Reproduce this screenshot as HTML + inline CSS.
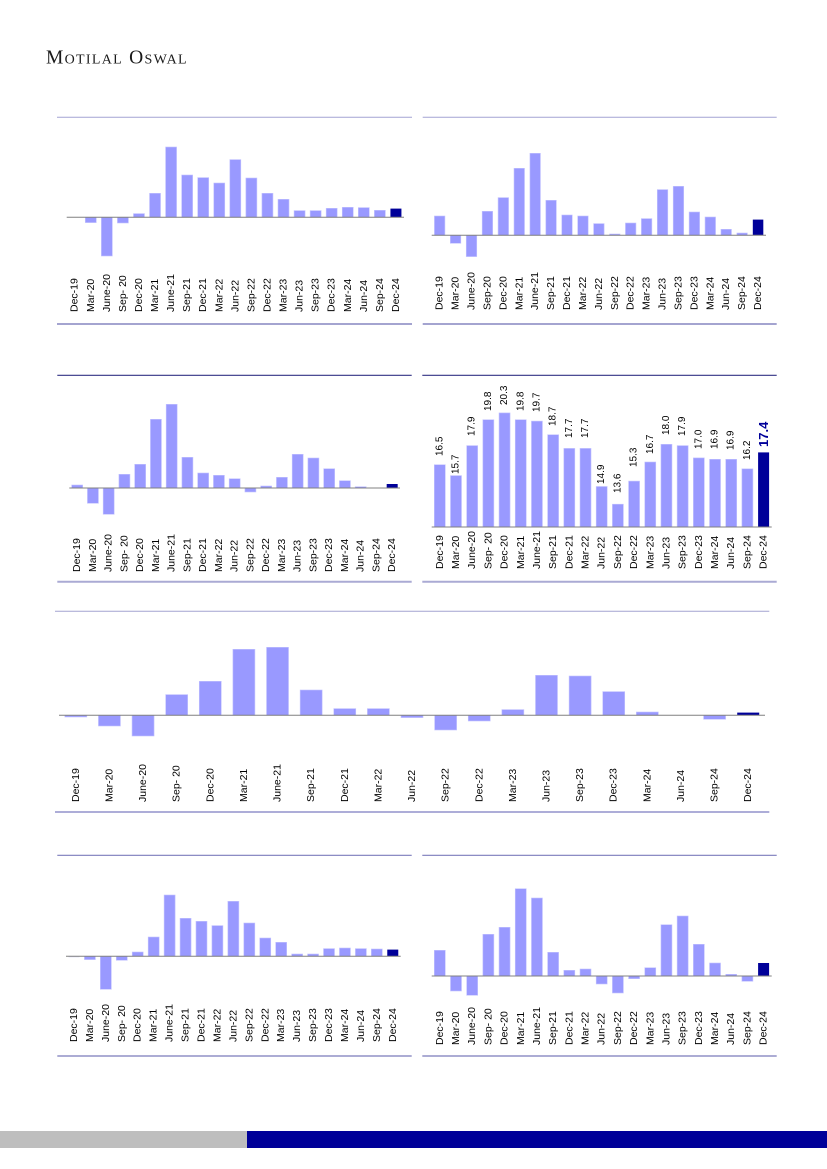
<!DOCTYPE html>
<html><head><meta charset="utf-8">
<style>
html,body{margin:0;padding:0;background:#fff;}
svg{display:block;}
.b{fill:#9999ff;stroke:#c4c4ff;stroke-width:0.6;}
.d{fill:#000099;}
.l{font-family:"Liberation Sans",sans-serif;font-size:10.5px;fill:#000;dominant-baseline:central;}
.v{font-family:"Liberation Sans",sans-serif;font-size:10px;fill:#000;dominant-baseline:central;}
.ax{stroke:#808080;stroke-width:1;}
</style></head>
<body>
<svg width="827" height="1169" viewBox="0 0 827 1169" xmlns="http://www.w3.org/2000/svg">
<rect width="827" height="1169" fill="#fff"/>

<!-- Header -->
<text x="46" y="63.5" font-family="'Liberation Serif',serif" fill="#1a1a1a" letter-spacing="1.3"><tspan font-size="19.5">M</tspan><tspan font-size="14">OTILAL</tspan><tspan font-size="19.5"> O</tspan><tspan font-size="14">SWAL</tspan></text>

<!-- ===== Chart 1 ===== -->
<line x1="57" y1="117.3" x2="412" y2="117.3" stroke="#a4a4d4" stroke-width="1"/>
<line x1="57" y1="324" x2="412" y2="324" stroke="#6e6eb4" stroke-width="1.3"/>
<g transform="translate(66.7,217.3)">
<rect class="b" x="18.59" y="0" width="11" height="5.3"/>
<rect class="b" x="34.65" y="0" width="11" height="38.7"/>
<rect class="b" x="50.71" y="0" width="11" height="5.7"/>
<rect class="b" x="66.77" y="-3.7" width="11" height="3.7"/>
<rect class="b" x="82.83" y="-24" width="11" height="24"/>
<rect class="b" x="98.89" y="-70.3" width="11" height="70.3"/>
<rect class="b" x="114.95" y="-42.3" width="11" height="42.3"/>
<rect class="b" x="131.01" y="-39.7" width="11" height="39.7"/>
<rect class="b" x="147.07" y="-34.3" width="11" height="34.3"/>
<rect class="b" x="163.13" y="-57.7" width="11" height="57.7"/>
<rect class="b" x="179.19" y="-39.3" width="11" height="39.3"/>
<rect class="b" x="195.25" y="-24" width="11" height="24"/>
<rect class="b" x="211.31" y="-18" width="11" height="18"/>
<rect class="b" x="227.37" y="-6.7" width="11" height="6.7"/>
<rect class="b" x="243.43" y="-6.7" width="11" height="6.7"/>
<rect class="b" x="259.49" y="-9" width="11" height="9"/>
<rect class="b" x="275.55" y="-10" width="11" height="10"/>
<rect class="b" x="291.61" y="-9.7" width="11" height="9.7"/>
<rect class="b" x="307.67" y="-7" width="11" height="7"/>
<rect class="d" x="323.73" y="-8.7" width="11" height="8.7"/>
<line class="ax" x1="0" y1="0" x2="337.3" y2="0"/>
</g>
<g transform="translate(66.7,312)">
<text class="l" transform="translate(8.03,0) rotate(-90)">Dec-19</text>
<text class="l" transform="translate(24.09,0) rotate(-90)">Mar-20</text>
<text class="l" transform="translate(40.15,0) rotate(-90)">June-20</text>
<text class="l" transform="translate(56.21,0) rotate(-90)">Sep- 20</text>
<text class="l" transform="translate(72.27,0) rotate(-90)">Dec-20</text>
<text class="l" transform="translate(88.33,0) rotate(-90)">Mar-21</text>
<text class="l" transform="translate(104.39,0) rotate(-90)">June-21</text>
<text class="l" transform="translate(120.45,0) rotate(-90)">Sep-21</text>
<text class="l" transform="translate(136.51,0) rotate(-90)">Dec-21</text>
<text class="l" transform="translate(152.57,0) rotate(-90)">Mar-22</text>
<text class="l" transform="translate(168.63,0) rotate(-90)">Jun-22</text>
<text class="l" transform="translate(184.69,0) rotate(-90)">Sep-22</text>
<text class="l" transform="translate(200.75,0) rotate(-90)">Dec-22</text>
<text class="l" transform="translate(216.81,0) rotate(-90)">Mar-23</text>
<text class="l" transform="translate(232.87,0) rotate(-90)">Jun-23</text>
<text class="l" transform="translate(248.93,0) rotate(-90)">Sep-23</text>
<text class="l" transform="translate(264.99,0) rotate(-90)">Dec-23</text>
<text class="l" transform="translate(281.05,0) rotate(-90)">Mar-24</text>
<text class="l" transform="translate(297.11,0) rotate(-90)">Jun-24</text>
<text class="l" transform="translate(313.17,0) rotate(-90)">Sep-24</text>
<text class="l" transform="translate(329.23,0) rotate(-90)">Dec-24</text>
</g>

<!-- ===== Chart 2 ===== -->
<line x1="422.7" y1="117.3" x2="776.7" y2="117.3" stroke="#a4a4d4" stroke-width="1"/>
<line x1="422.7" y1="324" x2="776.7" y2="324" stroke="#6e6eb4" stroke-width="1.3"/>
<g transform="translate(431.7,235.3)">
<rect class="b" x="2.71" y="-19.3" width="10.5" height="19.3"/>
<rect class="b" x="18.63" y="0" width="10.5" height="8"/>
<rect class="b" x="34.55" y="0" width="10.5" height="21.3"/>
<rect class="b" x="50.47" y="-24" width="10.5" height="24"/>
<rect class="b" x="66.39" y="-37.7" width="10.5" height="37.7"/>
<rect class="b" x="82.31" y="-67" width="10.5" height="67"/>
<rect class="b" x="98.23" y="-82" width="10.5" height="82"/>
<rect class="b" x="114.15" y="-35" width="10.5" height="35"/>
<rect class="b" x="130.07" y="-20.3" width="10.5" height="20.3"/>
<rect class="b" x="145.99" y="-19.3" width="10.5" height="19.3"/>
<rect class="b" x="161.91" y="-11.7" width="10.5" height="11.7"/>
<rect class="b" x="177.83" y="-1.3" width="10.5" height="1.3"/>
<rect class="b" x="193.75" y="-12.3" width="10.5" height="12.3"/>
<rect class="b" x="209.67" y="-16.7" width="10.5" height="16.7"/>
<rect class="b" x="225.59" y="-45.7" width="10.5" height="45.7"/>
<rect class="b" x="241.51" y="-49" width="10.5" height="49"/>
<rect class="b" x="257.43" y="-23.3" width="10.5" height="23.3"/>
<rect class="b" x="273.35" y="-18.3" width="10.5" height="18.3"/>
<rect class="b" x="289.27" y="-6" width="10.5" height="6"/>
<rect class="b" x="305.19" y="-2.3" width="10.5" height="2.3"/>
<rect class="d" x="321.11" y="-15.7" width="10.5" height="15.7"/>
<line class="ax" x1="0" y1="0" x2="334.3" y2="0"/>
</g>
<g transform="translate(431.7,310)">
<text class="l" transform="translate(7.96,0) rotate(-90)">Dec-19</text>
<text class="l" transform="translate(23.88,0) rotate(-90)">Mar-20</text>
<text class="l" transform="translate(39.8,0) rotate(-90)">June-20</text>
<text class="l" transform="translate(55.72,0) rotate(-90)">Sep-20</text>
<text class="l" transform="translate(71.64,0) rotate(-90)">Dec-20</text>
<text class="l" transform="translate(87.56,0) rotate(-90)">Mar-21</text>
<text class="l" transform="translate(103.48,0) rotate(-90)">June-21</text>
<text class="l" transform="translate(119.4,0) rotate(-90)">Sep-21</text>
<text class="l" transform="translate(135.32,0) rotate(-90)">Dec-21</text>
<text class="l" transform="translate(151.24,0) rotate(-90)">Mar-22</text>
<text class="l" transform="translate(167.16,0) rotate(-90)">Jun-22</text>
<text class="l" transform="translate(183.08,0) rotate(-90)">Sep-22</text>
<text class="l" transform="translate(199,0) rotate(-90)">Dec-22</text>
<text class="l" transform="translate(214.92,0) rotate(-90)">Mar-23</text>
<text class="l" transform="translate(230.84,0) rotate(-90)">Jun-23</text>
<text class="l" transform="translate(246.76,0) rotate(-90)">Sep-23</text>
<text class="l" transform="translate(262.68,0) rotate(-90)">Dec-23</text>
<text class="l" transform="translate(278.6,0) rotate(-90)">Mar-24</text>
<text class="l" transform="translate(294.52,0) rotate(-90)">Jun-24</text>
<text class="l" transform="translate(310.44,0) rotate(-90)">Sep-24</text>
<text class="l" transform="translate(326.36,0) rotate(-90)">Dec-24</text>
</g>

<!-- ===== Chart 3 ===== -->
<line x1="57.3" y1="375.3" x2="411.7" y2="375.3" stroke="#333385" stroke-width="1.2"/>
<line x1="57.3" y1="581.7" x2="411.7" y2="581.7" stroke="#aaaad4" stroke-width="2"/>
<g transform="translate(69.3,488)">
<rect class="b" x="2.38" y="-3" width="11" height="3"/>
<rect class="b" x="18.13" y="0" width="11" height="15.3"/>
<rect class="b" x="33.88" y="0" width="11" height="26.3"/>
<rect class="b" x="49.63" y="-13.7" width="11" height="13.7"/>
<rect class="b" x="65.38" y="-23.7" width="11" height="23.7"/>
<rect class="b" x="81.13" y="-68.7" width="11" height="68.7"/>
<rect class="b" x="96.88" y="-83.7" width="11" height="83.7"/>
<rect class="b" x="112.63" y="-30.7" width="11" height="30.7"/>
<rect class="b" x="128.38" y="-15" width="11" height="15"/>
<rect class="b" x="144.13" y="-12.7" width="11" height="12.7"/>
<rect class="b" x="159.88" y="-9.3" width="11" height="9.3"/>
<rect class="b" x="175.63" y="0" width="11" height="4"/>
<rect class="b" x="191.38" y="-2" width="11" height="2"/>
<rect class="b" x="207.13" y="-10.7" width="11" height="10.7"/>
<rect class="b" x="222.88" y="-33.7" width="11" height="33.7"/>
<rect class="b" x="238.63" y="-30" width="11" height="30"/>
<rect class="b" x="254.38" y="-19.3" width="11" height="19.3"/>
<rect class="b" x="270.13" y="-7.3" width="11" height="7.3"/>
<rect class="b" x="285.88" y="-1.3" width="11" height="1.3"/>
<rect class="d" x="317.38" y="-4" width="11" height="4"/>
<line class="ax" x1="0" y1="0" x2="330.7" y2="0"/>
</g>
<g transform="translate(69.3,572)">
<text class="l" transform="translate(7.88,0) rotate(-90)">Dec-19</text>
<text class="l" transform="translate(23.63,0) rotate(-90)">Mar-20</text>
<text class="l" transform="translate(39.38,0) rotate(-90)">June-20</text>
<text class="l" transform="translate(55.13,0) rotate(-90)">Sep- 20</text>
<text class="l" transform="translate(70.88,0) rotate(-90)">Dec-20</text>
<text class="l" transform="translate(86.63,0) rotate(-90)">Mar-21</text>
<text class="l" transform="translate(102.38,0) rotate(-90)">June-21</text>
<text class="l" transform="translate(118.13,0) rotate(-90)">Sep-21</text>
<text class="l" transform="translate(133.88,0) rotate(-90)">Dec-21</text>
<text class="l" transform="translate(149.63,0) rotate(-90)">Mar-22</text>
<text class="l" transform="translate(165.38,0) rotate(-90)">Jun-22</text>
<text class="l" transform="translate(181.13,0) rotate(-90)">Sep-22</text>
<text class="l" transform="translate(196.88,0) rotate(-90)">Dec-22</text>
<text class="l" transform="translate(212.63,0) rotate(-90)">Mar-23</text>
<text class="l" transform="translate(228.38,0) rotate(-90)">Jun-23</text>
<text class="l" transform="translate(244.13,0) rotate(-90)">Sep-23</text>
<text class="l" transform="translate(259.88,0) rotate(-90)">Dec-23</text>
<text class="l" transform="translate(275.63,0) rotate(-90)">Mar-24</text>
<text class="l" transform="translate(291.38,0) rotate(-90)">Jun-24</text>
<text class="l" transform="translate(307.13,0) rotate(-90)">Sep-24</text>
<text class="l" transform="translate(322.88,0) rotate(-90)">Dec-24</text>
</g>

<!-- ===== Chart 4 ===== -->
<line x1="422.3" y1="375.3" x2="776.7" y2="375.3" stroke="#333385" stroke-width="1.2"/>
<line x1="422.3" y1="581.7" x2="776.7" y2="581.7" stroke="#aaaad4" stroke-width="2"/>
<g transform="translate(431.7,527)">
<rect class="b" x="2.6" y="-62.3" width="11" height="62.3"/>
<rect class="b" x="18.79" y="-51.4" width="11" height="51.4"/>
<rect class="b" x="34.98" y="-81.4" width="11" height="81.4"/>
<rect class="b" x="51.17" y="-107.3" width="11" height="107.3"/>
<rect class="b" x="67.36" y="-114.1" width="11" height="114.1"/>
<rect class="b" x="83.55" y="-107.3" width="11" height="107.3"/>
<rect class="b" x="99.74" y="-105.9" width="11" height="105.9"/>
<rect class="b" x="115.93" y="-92.3" width="11" height="92.3"/>
<rect class="b" x="132.12" y="-78.6" width="11" height="78.6"/>
<rect class="b" x="148.31" y="-78.6" width="11" height="78.6"/>
<rect class="b" x="164.5" y="-40.5" width="11" height="40.5"/>
<rect class="b" x="180.69" y="-22.8" width="11" height="22.8"/>
<rect class="b" x="196.88" y="-45.9" width="11" height="45.9"/>
<rect class="b" x="213.07" y="-65" width="11" height="65"/>
<rect class="b" x="229.26" y="-82.7" width="11" height="82.7"/>
<rect class="b" x="245.45" y="-81.4" width="11" height="81.4"/>
<rect class="b" x="261.64" y="-69.1" width="11" height="69.1"/>
<rect class="b" x="277.83" y="-67.7" width="11" height="67.7"/>
<rect class="b" x="294.02" y="-67.7" width="11" height="67.7"/>
<rect class="b" x="310.21" y="-58.2" width="11" height="58.2"/>
<rect class="d" x="326.4" y="-74.6" width="11" height="74.6"/>
<line class="ax" x1="0" y1="0" x2="340" y2="0"/>
</g>
<g transform="translate(431.7,0)">
<text class="v" transform="translate(8.1,456) rotate(-90)">16.5</text>
<text class="v" transform="translate(24.29,474) rotate(-90)">15.7</text>
<text class="v" transform="translate(40.48,436) rotate(-90)">17.9</text>
<text class="v" transform="translate(56.67,411) rotate(-90)">19.8</text>
<text class="v" transform="translate(72.86,405) rotate(-90)">20.3</text>
<text class="v" transform="translate(89.05,411) rotate(-90)">19.8</text>
<text class="v" transform="translate(105.24,412) rotate(-90)">19.7</text>
<text class="v" transform="translate(121.43,426) rotate(-90)">18.7</text>
<text class="v" transform="translate(137.62,438) rotate(-90)">17.7</text>
<text class="v" transform="translate(153.81,438) rotate(-90)">17.7</text>
<text class="v" transform="translate(170,484) rotate(-90)">14.9</text>
<text class="v" transform="translate(186.19,493) rotate(-90)">13.6</text>
<text class="v" transform="translate(202.38,467) rotate(-90)">15.3</text>
<text class="v" transform="translate(218.57,454) rotate(-90)">16.7</text>
<text class="v" transform="translate(234.76,435) rotate(-90)">18.0</text>
<text class="v" transform="translate(250.95,436) rotate(-90)">17.9</text>
<text class="v" transform="translate(267.14,449) rotate(-90)">17.0</text>
<text class="v" transform="translate(283.33,449) rotate(-90)">16.9</text>
<text class="v" transform="translate(299.52,450) rotate(-90)">16.9</text>
<text class="v" transform="translate(315.71,460) rotate(-90)">16.2</text>
<text transform="translate(331.9,447) rotate(-90)" font-family="'Liberation Sans',sans-serif" font-size="13" font-weight="bold" fill="#000099" dominant-baseline="central">17.4</text>
</g>
<g transform="translate(431.7,569)">
<text class="l" transform="translate(8.1,0) rotate(-90)">Dec-19</text>
<text class="l" transform="translate(24.29,0) rotate(-90)">Mar-20</text>
<text class="l" transform="translate(40.48,0) rotate(-90)">June-20</text>
<text class="l" transform="translate(56.67,0) rotate(-90)">Sep- 20</text>
<text class="l" transform="translate(72.86,0) rotate(-90)">Dec-20</text>
<text class="l" transform="translate(89.05,0) rotate(-90)">Mar-21</text>
<text class="l" transform="translate(105.24,0) rotate(-90)">June-21</text>
<text class="l" transform="translate(121.43,0) rotate(-90)">Sep-21</text>
<text class="l" transform="translate(137.62,0) rotate(-90)">Dec-21</text>
<text class="l" transform="translate(153.81,0) rotate(-90)">Mar-22</text>
<text class="l" transform="translate(170,0) rotate(-90)">Jun-22</text>
<text class="l" transform="translate(186.19,0) rotate(-90)">Sep-22</text>
<text class="l" transform="translate(202.38,0) rotate(-90)">Dec-22</text>
<text class="l" transform="translate(218.57,0) rotate(-90)">Mar-23</text>
<text class="l" transform="translate(234.76,0) rotate(-90)">Jun-23</text>
<text class="l" transform="translate(250.95,0) rotate(-90)">Sep-23</text>
<text class="l" transform="translate(267.14,0) rotate(-90)">Dec-23</text>
<text class="l" transform="translate(283.33,0) rotate(-90)">Mar-24</text>
<text class="l" transform="translate(299.52,0) rotate(-90)">Jun-24</text>
<text class="l" transform="translate(315.71,0) rotate(-90)">Sep-24</text>
<text class="l" transform="translate(331.9,0) rotate(-90)">Dec-24</text>
</g>

<!-- ===== Chart 5 (wide) ===== -->
<line x1="55" y1="611.3" x2="769.3" y2="611.3" stroke="#a4a4d0" stroke-width="1"/>
<line x1="55" y1="812" x2="769.3" y2="812" stroke="#7c7cc0" stroke-width="1.3"/>
<g transform="translate(59,715.3)">
<rect class="b" x="5.81" y="0" width="22" height="1.7"/>
<rect class="b" x="39.43" y="0" width="22" height="10.7"/>
<rect class="b" x="73.05" y="0" width="22" height="20.7"/>
<rect class="b" x="106.67" y="-20.7" width="22" height="20.7"/>
<rect class="b" x="140.29" y="-34" width="22" height="34"/>
<rect class="b" x="173.91" y="-66" width="22" height="66"/>
<rect class="b" x="207.53" y="-68" width="22" height="68"/>
<rect class="b" x="241.15" y="-25.3" width="22" height="25.3"/>
<rect class="b" x="274.77" y="-6.7" width="22" height="6.7"/>
<rect class="b" x="308.39" y="-6.7" width="22" height="6.7"/>
<rect class="b" x="342.01" y="0" width="22" height="2.3"/>
<rect class="b" x="375.63" y="0" width="22" height="14.7"/>
<rect class="b" x="409.25" y="0" width="22" height="5.7"/>
<rect class="b" x="442.87" y="-5.7" width="22" height="5.7"/>
<rect class="b" x="476.49" y="-40" width="22" height="40"/>
<rect class="b" x="510.11" y="-39.3" width="22" height="39.3"/>
<rect class="b" x="543.73" y="-23.7" width="22" height="23.7"/>
<rect class="b" x="577.35" y="-3.3" width="22" height="3.3"/>
<rect class="b" x="644.59" y="0" width="22" height="4"/>
<rect class="d" x="678.21" y="-2.7" width="22" height="2.7"/>
<line class="ax" x1="0" y1="0" x2="706" y2="0"/>
</g>
<g transform="translate(59,802)">
<text class="l" transform="translate(16.81,0) rotate(-90)">Dec-19</text>
<text class="l" transform="translate(50.43,0) rotate(-90)">Mar-20</text>
<text class="l" transform="translate(84.05,0) rotate(-90)">June-20</text>
<text class="l" transform="translate(117.67,0) rotate(-90)">Sep- 20</text>
<text class="l" transform="translate(151.29,0) rotate(-90)">Dec-20</text>
<text class="l" transform="translate(184.91,0) rotate(-90)">Mar-21</text>
<text class="l" transform="translate(218.53,0) rotate(-90)">June-21</text>
<text class="l" transform="translate(252.15,0) rotate(-90)">Sep-21</text>
<text class="l" transform="translate(285.77,0) rotate(-90)">Dec-21</text>
<text class="l" transform="translate(319.39,0) rotate(-90)">Mar-22</text>
<text class="l" transform="translate(353.01,0) rotate(-90)">Jun-22</text>
<text class="l" transform="translate(386.63,0) rotate(-90)">Sep-22</text>
<text class="l" transform="translate(420.25,0) rotate(-90)">Dec-22</text>
<text class="l" transform="translate(453.87,0) rotate(-90)">Mar-23</text>
<text class="l" transform="translate(487.49,0) rotate(-90)">Jun-23</text>
<text class="l" transform="translate(521.11,0) rotate(-90)">Sep-23</text>
<text class="l" transform="translate(554.73,0) rotate(-90)">Dec-23</text>
<text class="l" transform="translate(588.35,0) rotate(-90)">Mar-24</text>
<text class="l" transform="translate(621.97,0) rotate(-90)">Jun-24</text>
<text class="l" transform="translate(655.59,0) rotate(-90)">Sep-24</text>
<text class="l" transform="translate(689.21,0) rotate(-90)">Dec-24</text>
</g>

<!-- ===== Chart 6 ===== -->
<line x1="57.3" y1="855.3" x2="411.7" y2="855.3" stroke="#7b7bbb" stroke-width="1.2"/>
<line x1="57.3" y1="1056" x2="411.7" y2="1056" stroke="#7b7bbb" stroke-width="1.2"/>
<g transform="translate(66,956.3)">
<rect x="2.47" y="0" width="11" height="1" fill="#dcdcf5"/>
<rect class="b" x="18.41" y="0" width="11" height="3.3"/>
<rect class="b" x="34.35" y="0" width="11" height="33"/>
<rect class="b" x="50.29" y="0" width="11" height="4"/>
<rect class="b" x="66.23" y="-4.3" width="11" height="4.3"/>
<rect class="b" x="82.17" y="-19.3" width="11" height="19.3"/>
<rect class="b" x="98.11" y="-61.3" width="11" height="61.3"/>
<rect class="b" x="114.05" y="-38" width="11" height="38"/>
<rect class="b" x="129.99" y="-35" width="11" height="35"/>
<rect class="b" x="145.93" y="-30.7" width="11" height="30.7"/>
<rect class="b" x="161.87" y="-55" width="11" height="55"/>
<rect class="b" x="177.81" y="-33.3" width="11" height="33.3"/>
<rect class="b" x="193.75" y="-18.3" width="11" height="18.3"/>
<rect class="b" x="209.69" y="-14" width="11" height="14"/>
<rect class="b" x="225.63" y="-2.3" width="11" height="2.3"/>
<rect class="b" x="241.57" y="-2.3" width="11" height="2.3"/>
<rect class="b" x="257.51" y="-7.7" width="11" height="7.7"/>
<rect class="b" x="273.45" y="-8.3" width="11" height="8.3"/>
<rect class="b" x="289.39" y="-7.7" width="11" height="7.7"/>
<rect class="b" x="305.33" y="-7.3" width="11" height="7.3"/>
<rect class="d" x="321.27" y="-6.7" width="11" height="6.7"/>
<line class="ax" x1="0" y1="0" x2="334.7" y2="0"/>
</g>
<g transform="translate(66,1042)">
<text class="l" transform="translate(7.97,0) rotate(-90)">Dec-19</text>
<text class="l" transform="translate(23.91,0) rotate(-90)">Mar-20</text>
<text class="l" transform="translate(39.85,0) rotate(-90)">June-20</text>
<text class="l" transform="translate(55.79,0) rotate(-90)">Sep- 20</text>
<text class="l" transform="translate(71.73,0) rotate(-90)">Dec-20</text>
<text class="l" transform="translate(87.67,0) rotate(-90)">Mar-21</text>
<text class="l" transform="translate(103.61,0) rotate(-90)">June-21</text>
<text class="l" transform="translate(119.55,0) rotate(-90)">Sep-21</text>
<text class="l" transform="translate(135.49,0) rotate(-90)">Dec-21</text>
<text class="l" transform="translate(151.43,0) rotate(-90)">Mar-22</text>
<text class="l" transform="translate(167.37,0) rotate(-90)">Jun-22</text>
<text class="l" transform="translate(183.31,0) rotate(-90)">Sep-22</text>
<text class="l" transform="translate(199.25,0) rotate(-90)">Dec-22</text>
<text class="l" transform="translate(215.19,0) rotate(-90)">Mar-23</text>
<text class="l" transform="translate(231.13,0) rotate(-90)">Jun-23</text>
<text class="l" transform="translate(247.07,0) rotate(-90)">Sep-23</text>
<text class="l" transform="translate(263.01,0) rotate(-90)">Dec-23</text>
<text class="l" transform="translate(278.95,0) rotate(-90)">Mar-24</text>
<text class="l" transform="translate(294.89,0) rotate(-90)">Jun-24</text>
<text class="l" transform="translate(310.83,0) rotate(-90)">Sep-24</text>
<text class="l" transform="translate(326.77,0) rotate(-90)">Dec-24</text>
</g>

<!-- ===== Chart 7 ===== -->
<line x1="422.3" y1="855.3" x2="776.7" y2="855.3" stroke="#7b7bbb" stroke-width="1.2"/>
<line x1="422.3" y1="1056" x2="776.7" y2="1056" stroke="#7b7bbb" stroke-width="1.2"/>
<g transform="translate(431.7,976)">
<rect class="b" x="2.6" y="-25.7" width="11" height="25.7"/>
<rect class="b" x="18.79" y="0" width="11" height="15"/>
<rect class="b" x="34.98" y="0" width="11" height="19.3"/>
<rect class="b" x="51.17" y="-41.7" width="11" height="41.7"/>
<rect class="b" x="67.36" y="-48.7" width="11" height="48.7"/>
<rect class="b" x="83.55" y="-87.3" width="11" height="87.3"/>
<rect class="b" x="99.74" y="-78" width="11" height="78"/>
<rect class="b" x="115.93" y="-23.7" width="11" height="23.7"/>
<rect class="b" x="132.12" y="-5.7" width="11" height="5.7"/>
<rect class="b" x="148.31" y="-7" width="11" height="7"/>
<rect class="b" x="164.5" y="0" width="11" height="8"/>
<rect class="b" x="180.69" y="0" width="11" height="17"/>
<rect class="b" x="196.88" y="0" width="11" height="2.7"/>
<rect class="b" x="213.07" y="-8.3" width="11" height="8.3"/>
<rect class="b" x="229.26" y="-51.3" width="11" height="51.3"/>
<rect class="b" x="245.45" y="-60" width="11" height="60"/>
<rect class="b" x="261.64" y="-31.7" width="11" height="31.7"/>
<rect class="b" x="277.83" y="-13" width="11" height="13"/>
<rect class="b" x="294.02" y="-1.7" width="11" height="1.7"/>
<rect class="b" x="310.21" y="0" width="11" height="5.3"/>
<rect class="d" x="326.4" y="-13" width="11" height="13"/>
<line class="ax" x1="0" y1="0" x2="340" y2="0"/>
</g>
<g transform="translate(431.7,1045)">
<text class="l" transform="translate(8.1,0) rotate(-90)">Dec-19</text>
<text class="l" transform="translate(24.29,0) rotate(-90)">Mar-20</text>
<text class="l" transform="translate(40.48,0) rotate(-90)">June-20</text>
<text class="l" transform="translate(56.67,0) rotate(-90)">Sep- 20</text>
<text class="l" transform="translate(72.86,0) rotate(-90)">Dec-20</text>
<text class="l" transform="translate(89.05,0) rotate(-90)">Mar-21</text>
<text class="l" transform="translate(105.24,0) rotate(-90)">June-21</text>
<text class="l" transform="translate(121.43,0) rotate(-90)">Sep-21</text>
<text class="l" transform="translate(137.62,0) rotate(-90)">Dec-21</text>
<text class="l" transform="translate(153.81,0) rotate(-90)">Mar-22</text>
<text class="l" transform="translate(170,0) rotate(-90)">Jun-22</text>
<text class="l" transform="translate(186.19,0) rotate(-90)">Sep-22</text>
<text class="l" transform="translate(202.38,0) rotate(-90)">Dec-22</text>
<text class="l" transform="translate(218.57,0) rotate(-90)">Mar-23</text>
<text class="l" transform="translate(234.76,0) rotate(-90)">Jun-23</text>
<text class="l" transform="translate(250.95,0) rotate(-90)">Sep-23</text>
<text class="l" transform="translate(267.14,0) rotate(-90)">Dec-23</text>
<text class="l" transform="translate(283.33,0) rotate(-90)">Mar-24</text>
<text class="l" transform="translate(299.52,0) rotate(-90)">Jun-24</text>
<text class="l" transform="translate(315.71,0) rotate(-90)">Sep-24</text>
<text class="l" transform="translate(331.9,0) rotate(-90)">Dec-24</text>
</g>

<!-- Footer bar -->
<rect x="0" y="1131" width="247" height="17" fill="#bebebe"/>
<rect x="247" y="1131" width="580" height="17" fill="#000099"/>
</svg>
</body></html>
